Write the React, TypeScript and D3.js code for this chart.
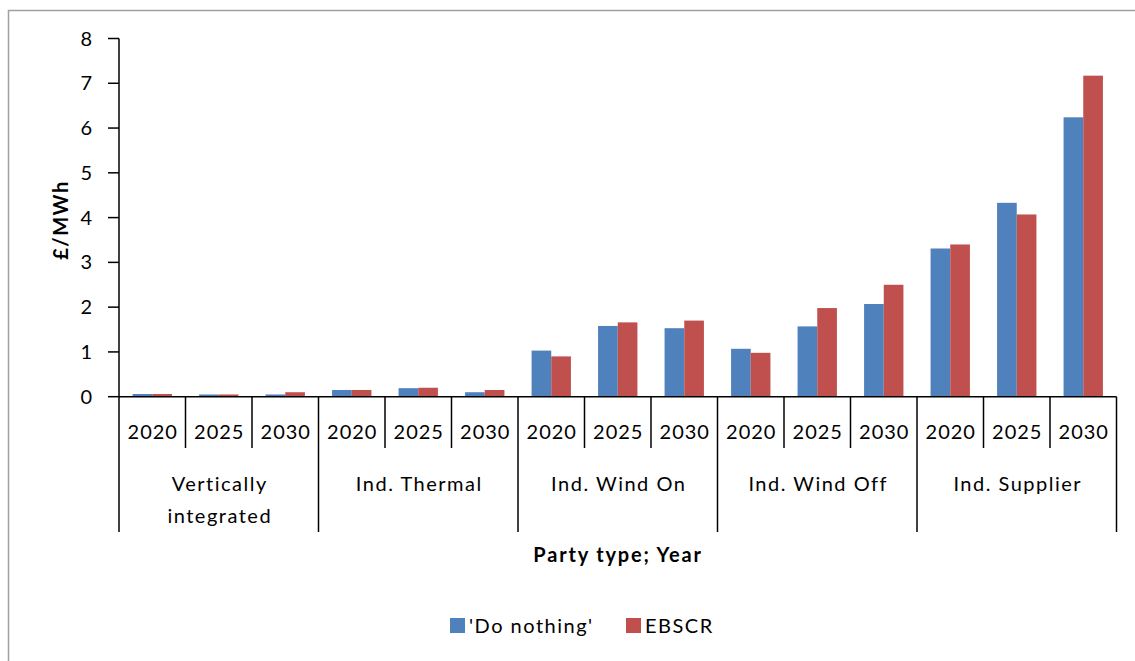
import { scaleBand, scaleLinear, range } from "d3";

const groups = ["Vertically integrated", "Ind. Thermal", "Ind. Wind On", "Ind. Wind Off", "Ind. Supplier"];
const years = ["2020", "2025", "2030"];
const seriesNames = ["'Do nothing'", "EBSCR"];
const doNothing = [0.06, 0.05, 0.05, 0.15, 0.19, 0.1, 1.03, 1.58, 1.53, 1.07, 1.57, 2.07, 3.31, 4.33, 6.24];
const ebscr = [0.06, 0.05, 0.1, 0.15, 0.2, 0.15, 0.9, 1.66, 1.7, 0.98, 1.98, 2.5, 3.4, 4.07, 7.17];
const yTicks = [0, 1, 2, 3, 4, 5, 6, 7, 8];

const colors = ["#4F81BD", "#C0504D"];
const font = "Lato, 'Open Sans', sans-serif";

export default function App() {
  const width = 1135;
  const height = 661;
  const margin = { left: 119, right: 1116.5, top: 38.5, bottom: 396.7 };

  const cats = range(groups.length * years.length);
  const x = scaleBand<number>().domain(cats).range([margin.left, margin.right]);
  const inner = scaleBand<number>().domain([0, 1]).range([0, x.bandwidth()]).paddingOuter(0.69);
  const y = scaleLinear().domain([0, 8]).range([margin.bottom, margin.top]);
  const series = [doNothing, ebscr];

  const base = y(0);
  const yearTickEnd = 448;
  const groupTickEnd = 532;

  return (
    <svg width={width} height={height} style={{ position: "absolute", left: 0, top: 0 }}>
      <rect x={0} y={0} width={width} height={height} fill="#fff" />
      <rect x={8.5} y={10.5} width={1140} height={700} fill="none" stroke="#a0a0a0" strokeWidth={1.5} />

      {/* bars */}
      {series.map((vals, s) =>
        vals.map((v, i) => (
          <rect
            key={`${s}-${i}`}
            x={(x(i) ?? 0) + (inner(s) ?? 0)}
            y={y(v)}
            width={inner.bandwidth()}
            height={base - y(v)}
            fill={colors[s]}
          />
        ))
      )}

      {/* y axis */}
      <line x1={margin.left} x2={margin.left} y1={y(8)} y2={base} stroke="#000" strokeWidth={1.5} />
      {yTicks.map((t) => (
        <g key={t}>
          <line x1={margin.left - 11} x2={margin.left} y1={y(t)} y2={y(t)} stroke="#000" strokeWidth={1.5} />
          <text x={92} y={y(t)} dy="0.35em" textAnchor="end" fontFamily={font} fontSize={20} fill="#000">
            {t}
          </text>
        </g>
      ))}
      <text
        transform={`translate(68,220) rotate(-90)`}
        textAnchor="middle"
        fontFamily={font}
        fontWeight="bold"
        fontSize={20}
        letterSpacing={1.5}
      >
        £/MWh
      </text>

      {/* category axis */}
      <line x1={margin.left} x2={margin.right} y1={base} y2={base} stroke="#000" strokeWidth={1.5} />
      {range(cats.length + 1).map((i) => {
        const xp = i < cats.length ? x(i) ?? 0 : margin.right;
        const isGroup = i % years.length === 0;
        return (
          <line
            key={i}
            x1={xp}
            x2={xp}
            y1={base}
            y2={isGroup ? groupTickEnd : yearTickEnd}
            stroke="#000"
            strokeWidth={1.5}
          />
        );
      })}
      {cats.map((i) => (
        <text
          key={i}
          x={(x(i) ?? 0) + x.bandwidth() / 2 + 0.5}
          y={432}
          dy="0.35em"
          textAnchor="middle"
          fontFamily={font}
          fontSize={20}
          letterSpacing={1}
        >
          {years[i % years.length]}
        </text>
      ))}
      {groups.map((g, gi) => {
        const cx = (x(gi * 3) ?? 0) + (x.bandwidth() * 3) / 2 + 1;
        const words = g === "Vertically integrated" ? ["Vertically", "integrated"] : [g];
        return (
          <text key={g} x={cx} y={484} textAnchor="middle" fontFamily={font} fontSize={20} letterSpacing={1.5}>
            {words.map((w, wi) => (
              <tspan key={wi} x={cx} dy={wi === 0 ? "0.35em" : 32}>
                {w}
              </tspan>
            ))}
          </text>
        );
      })}
      <text
        x={618}
        y={555}
        dy="0.35em"
        textAnchor="middle"
        fontFamily={font}
        fontWeight="bold"
        fontSize={20}
        letterSpacing={1.8}
      >
        Party type; Year
      </text>

      {/* legend */}
      {seriesNames.map((name, s) => {
        const lx = s === 0 ? 450 : 626;
        return (
          <g key={name}>
            <rect x={lx} y={618} width={15} height={15} fill={colors[s]} />
            <text x={lx + 19} y={626} dy="0.35em" fontFamily={font} fontSize={20} letterSpacing={1.5}>
              {name}
            </text>
          </g>
        );
      })}
    </svg>
  );
}
